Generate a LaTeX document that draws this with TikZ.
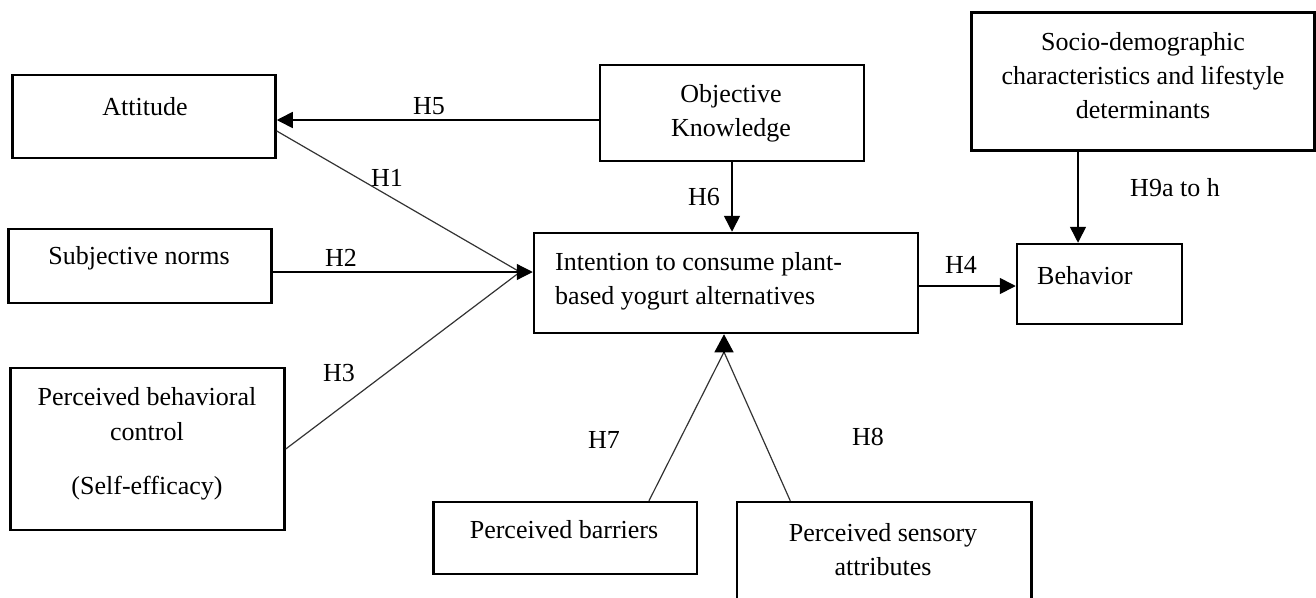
\documentclass[tikz,border=0pt]{standalone}
\usepackage{fontspec}
\setmainfont{Liberation Serif}
\usetikzlibrary{arrows.meta}
\begin{document}
\begin{tikzpicture}[x=1pt,y=-1pt,
  box/.style={draw, line width=2.5pt, inner sep=0pt},
  txt/.style={font=\fontsize{26}{30}\selectfont, inner sep=0pt, align=center},
  lab/.style={font=\fontsize{26}{30}\selectfont, inner sep=0pt},
  tip/.style={-{Triangle[length=16pt,width=16pt]}},
  arr/.style={line width=1.6pt, tip},
  thinline/.style={line width=1.2pt, draw=black!80}]
\clip (0,0) rectangle (1316,597);
\useasboundingbox (0,0) rectangle (1316,597);

% boxes
\node[box, minimum width=263pt, minimum height=83pt] (att) at (144,116.5) {};
\node[box, minimum width=263pt, minimum height=74pt] (sn) at (140,266) {};
\node[box, minimum width=274pt, minimum height=162pt] (pbc) at (147.5,449) {};
\node[box, minimum width=264pt, minimum height=96pt] (ok) at (732,113) {};
\node[box, minimum width=343pt, minimum height=138pt] (soc) at (1143,81.7) {};
\node[box, minimum width=384pt, minimum height=100pt] (int) at (726,283) {};
\node[box, minimum width=165pt, minimum height=80pt] (beh) at (1099.5,284) {};
\node[box, minimum width=263.5pt, minimum height=72pt] (bar) at (565,538) {};
\node[box, minimum width=294.5pt, minimum height=110pt] (sen) at (884.25,557) {};

% texts
\node[txt] (att-t) at (145,107) {Attitude};
\node[txt] (sn-t) at (139,258) {Subjective norms};
\node[txt] (pbc-t1) at (147,397) {Perceived behavioral};
\node[txt] (pbc-t2) at (147,432) {control};
\node[txt] (pbc-t3) at (147,488) {(Self-efficacy)};
\node[txt] (ok-t) at (731,113) {Objective\\[4pt]Knowledge};
\node[txt] (soc-t) at (1143,76) {Socio-demographic\\[4pt]characteristics and lifestyle\\[4pt]determinants};
\node[txt, align=left, anchor=west] (int-t) at (555,281) {Intention to consume plant-\\[4pt]based yogurt alternatives};
\node[txt, anchor=west] (beh-t) at (1037,276) {Behavior};
\node[txt] (bar-t) at (564,530) {Perceived barriers};
\node[txt] (sen-t) at (883,550) {Perceived sensory\\[4pt]attributes};

% hypothesis labels
\node[lab] (l5) at (429,106) {H5};
\node[lab] (l1) at (387,178) {H1};
\node[lab] (l2) at (341,258) {H2};
\node[lab] (l3) at (339,373) {H3};
\node[lab] (l6) at (704,197) {H6};
\node[lab] (l9) at (1175,188) {H9a to h};
\node[lab] (l4) at (961,265) {H4};
\node[lab] (l7) at (604,440) {H7};
\node[lab] (l8) at (868,437) {H8};

% connectors
\coordinate (h5y) at (0,120);
\draw[arr] (ok.west |- h5y) -- (att.east |- h5y);

\coordinate (j) at (520,272);
\draw[thinline] ([yshift=-14.5pt]att.east) -- (j);
\draw[thinline] (pbc.east) -- (j);
\draw[line width=1.2pt, tip] (sn.east |- j) -- (int.west |- j);

\draw[arr] (ok.south) -- (ok.south |- int.north);

\coordinate (h9x) at (1078,0);
\draw[arr] (soc.south -| h9x) -- (beh.north -| h9x);

\draw[arr] ([yshift=-3pt]int.east) -- ([yshift=-3pt]int.east -| beh.west);

\coordinate (b) at (724,352);
\draw[thinline] ([xshift=84pt]bar.north) -- (b);
\draw[thinline] ([xshift=-94pt]sen.north) -- (b);
\draw[line width=1.2pt, -{Triangle[length=18pt,width=19pt]}] (b) -- (b |- int.south);
\end{tikzpicture}
\end{document}
